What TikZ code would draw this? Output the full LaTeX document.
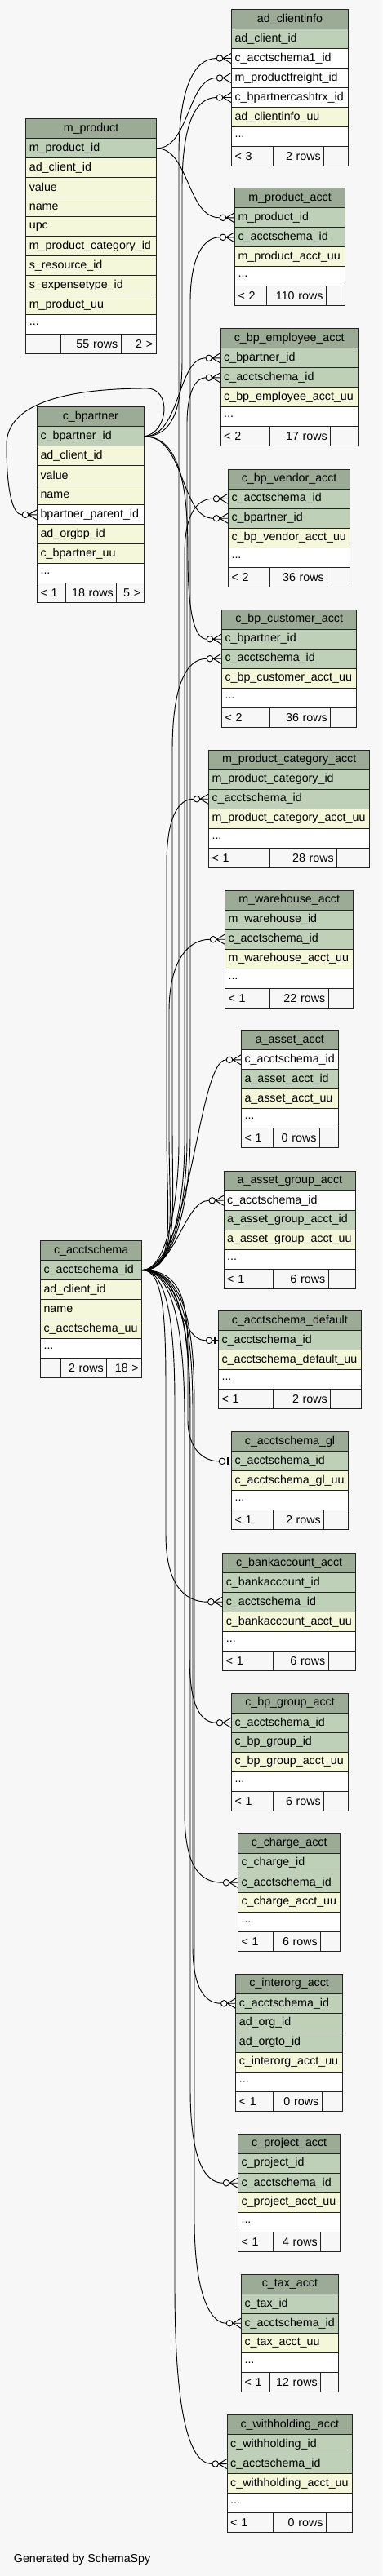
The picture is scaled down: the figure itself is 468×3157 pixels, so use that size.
\documentclass[tikz,border=0pt]{standalone}
\usepackage{fontspec}
\setmainfont{Liberation Sans}
\definecolor{bgc}{HTML}{F7F7F7}
\definecolor{hdrc}{HTML}{9BAB96}
\definecolor{pkc}{HTML}{BED1B8}
\definecolor{fldc}{HTML}{F4F7DA}
\definecolor{whc}{HTML}{FFFFFF}
\definecolor{bdc}{HTML}{222222}
\tikzset{
  cellbase/.style={draw=bdc, line width=0.8pt, anchor=north west, minimum height=18pt, inner xsep=3pt, inner ysep=0pt, font=\fontsize{10.7pt}{12.5pt}\selectfont, text=black},
  hbox/.style={cellbase, fill=hdrc, align=center},
  rbox/.style={cellbase, align=left},
  fboxl/.style={cellbase, fill=bgc, align=left},
  fboxr/.style={cellbase, fill=bgc, align=right},
  fkline/.style={line width=0.7pt, black},
  mk/.style={line width=0.7pt, black},
}
\newcommand\tHead[5]{%
  \pgfmathsetmacro\tw{((#3)-(#2))*0.75-6}%
  \node[hbox, text width=\tw pt] (#1) at (#2,#4) {\mbox{#5}};}
\newcommand\tRow[6]{%
  \pgfmathsetmacro\tw{((#3)-(#2))*0.75-6}%
  \node[rbox, fill=#5, text width=\tw pt] (#1) at (#2,#4) {\mbox{#6}};}
\newcommand\tFoot[9]{%
  \pgfmathsetmacro\twa{((#3)-(#2))*0.75-6}%
  \pgfmathsetmacro\twb{((#4)-(#3))*0.75-6}%
  \pgfmathsetmacro\twc{((#5)-(#4))*0.75-6}%
  \node[fboxl, text width=\twa pt] (#1-a) at (#2,#6) {\mbox{#7}};
  \node[fboxr, text width=\twb pt] (#1-b) at (#3,#6) {\mbox{#8}};
  \node[fboxr, text width=\twc pt] (#1-c) at (#4,#6) {\mbox{#9}};}
\newcommand\crowin[1]{%
  \coordinate (#1-in) at ([xshift=-13.5pt]#1.west);
  \begin{scope}[shift={(#1.west)}]
    \draw[mk] (0,-6) -- (-10,0) -- (0,6) (-10,0) -- (0,0);
    \draw[mk, fill=white] (-14,0) circle[radius=2.8pt];
  \end{scope}}
\newcommand\onein[1]{%
  \coordinate (#1-in) at ([xshift=-11pt]#1.west);
  \begin{scope}[shift={(#1.west)}]
    \draw[mk] (-7,0) -- (0,0);
    \draw[black, line width=2pt] (-3.7,-4.5) -- (-3.7,4.5);
    \draw[mk, fill=white] (-11,0) circle[radius=2.8pt];
  \end{scope}}
\begin{document}
\begin{tikzpicture}[x=0.75pt,y=-0.75pt]
\fill[bgc] (0,0) rectangle (468,3157);
\useasboundingbox (0,0) rectangle (468,3157);

% ad_clientinfo
\tHead{ci}{283}{426}{11}{ad\_clientinfo}
\tRow{ci-1}{283}{426}{35}{pkc}{ad\_client\_id}
\tRow{ci-2}{283}{426}{59}{whc}{c\_acctschema1\_id}
\tRow{ci-3}{283}{426}{83}{whc}{m\_productfreight\_id}
\tRow{ci-4}{283}{426}{107}{whc}{c\_bpartnercashtrx\_id}
\tRow{ci-5}{283}{426}{131}{fldc}{ad\_clientinfo\_uu}
\tRow{ci-6}{283}{426}{155}{whc}{...}
\tFoot{ci-f}{283}{333.7}{396.3}{426}{179}{< 3}{2 rows}{}

% m_product
\tHead{mp}{31.3}{190.7}{145.3}{m\_product}
\tRow{mp-1}{31.3}{190.7}{169.3}{pkc}{m\_product\_id}
\tRow{mp-2}{31.3}{190.7}{193.3}{fldc}{ad\_client\_id}
\tRow{mp-3}{31.3}{190.7}{217.3}{fldc}{value}
\tRow{mp-4}{31.3}{190.7}{241.3}{fldc}{name}
\tRow{mp-5}{31.3}{190.7}{265.3}{fldc}{upc}
\tRow{mp-6}{31.3}{190.7}{289.3}{fldc}{m\_product\_category\_id}
\tRow{mp-7}{31.3}{190.7}{313.3}{fldc}{s\_resource\_id}
\tRow{mp-8}{31.3}{190.7}{337.3}{fldc}{s\_expensetype\_id}
\tRow{mp-9}{31.3}{190.7}{361.3}{fldc}{m\_product\_uu}
\tRow{mp-10}{31.3}{190.7}{385.3}{whc}{...}
\tFoot{mp-f}{31.3}{74.3}{147.7}{190.7}{409.3}{}{55 rows}{2 >}

% m_product_acct
\tHead{mpa}{287}{422}{230.3}{m\_product\_acct}
\tRow{mpa-1}{287}{422}{254.3}{pkc}{m\_product\_id}
\tRow{mpa-2}{287}{422}{278.3}{pkc}{c\_acctschema\_id}
\tRow{mpa-3}{287}{422}{302.3}{fldc}{m\_product\_acct\_uu}
\tRow{mpa-4}{287}{422}{326.3}{whc}{...}
\tFoot{mpa-f}{287}{325.7}{399}{422}{350.3}{< 2}{110 rows}{}

% c_bp_employee_acct
\tHead{bpe}{269.7}{437.7}{402.3}{c\_bp\_employee\_acct}
\tRow{bpe-1}{269.7}{437.7}{426.3}{pkc}{c\_bpartner\_id}
\tRow{bpe-2}{269.7}{437.7}{450.3}{pkc}{c\_acctschema\_id}
\tRow{bpe-3}{269.7}{437.7}{474.3}{fldc}{c\_bp\_employee\_acct\_uu}
\tRow{bpe-4}{269.7}{437.7}{498.3}{whc}{...}
\tFoot{bpe-f}{269.7}{329.7}{404.3}{437.7}{522.3}{< 2}{17 rows}{}

% c_bpartner
\tHead{bp}{45}{175.7}{498.3}{c\_bpartner}
\tRow{bp-1}{45}{175.7}{522.3}{pkc}{c\_bpartner\_id}
\tRow{bp-2}{45}{175.7}{546.3}{fldc}{ad\_client\_id}
\tRow{bp-3}{45}{175.7}{570.3}{fldc}{value}
\tRow{bp-4}{45}{175.7}{594.3}{fldc}{name}
\tRow{bp-5}{45}{175.7}{618.3}{whc}{bpartner\_parent\_id}
\tRow{bp-6}{45}{175.7}{642.3}{fldc}{ad\_orgbp\_id}
\tRow{bp-7}{45}{175.7}{666.3}{fldc}{c\_bpartner\_uu}
\tRow{bp-8}{45}{175.7}{690.3}{whc}{...}
\tFoot{bp-f}{45}{79.7}{142.3}{175.7}{714.3}{< 1}{18 rows}{5 >}

% c_bp_vendor_acct
\tHead{bpv}{279}{428.3}{574.7}{c\_bp\_vendor\_acct}
\tRow{bpv-1}{279}{428.3}{598.7}{pkc}{c\_acctschema\_id}
\tRow{bpv-2}{279}{428.3}{622.7}{pkc}{c\_bpartner\_id}
\tRow{bpv-3}{279}{428.3}{646.7}{fldc}{c\_bp\_vendor\_acct\_uu}
\tRow{bpv-4}{279}{428.3}{670.7}{whc}{...}
\tFoot{bpv-f}{279}{329.7}{400.3}{428.3}{694.7}{< 2}{36 rows}{}

% c_bp_customer_acct
\tHead{bpc}{271}{436.3}{746.7}{c\_bp\_customer\_acct}
\tRow{bpc-1}{271}{436.3}{770.7}{pkc}{c\_bpartner\_id}
\tRow{bpc-2}{271}{436.3}{794.7}{pkc}{c\_acctschema\_id}
\tRow{bpc-3}{271}{436.3}{818.7}{fldc}{c\_bp\_customer\_acct\_uu}
\tRow{bpc-4}{271}{436.3}{842.7}{whc}{...}
\tFoot{bpc-f}{271}{329.7}{404.3}{436.3}{866.7}{< 2}{36 rows}{}

% m_product_category_acct
\tHead{mpc}{255}{452.3}{918.7}{m\_product\_category\_acct}
\tRow{mpc-1}{255}{452.3}{942.7}{pkc}{m\_product\_category\_id}
\tRow{mpc-2}{255}{452.3}{966.7}{pkc}{c\_acctschema\_id}
\tRow{mpc-3}{255}{452.3}{990.7}{fldc}{m\_product\_category\_acct\_uu}
\tRow{mpc-4}{255}{452.3}{1014.7}{whc}{...}
\tFoot{mpc-f}{255}{329.7}{412.3}{452.3}{1038.7}{< 1}{28 rows}{}

% m_warehouse_acct
\tHead{mwa}{275}{432.3}{1090.7}{m\_warehouse\_acct}
\tRow{mwa-1}{275}{432.3}{1114.7}{pkc}{m\_warehouse\_id}
\tRow{mwa-2}{275}{432.3}{1138.7}{pkc}{c\_acctschema\_id}
\tRow{mwa-3}{275}{432.3}{1162.7}{fldc}{m\_warehouse\_acct\_uu}
\tRow{mwa-4}{275}{432.3}{1186.7}{whc}{...}
\tFoot{mwa-f}{275}{329.7}{401.7}{432.3}{1210.7}{< 1}{22 rows}{}

% a_asset_acct
\tHead{aa}{295}{413.7}{1262.3}{a\_asset\_acct}
\tRow{aa-1}{295}{413.7}{1286.3}{whc}{c\_acctschema\_id}
\tRow{aa-2}{295}{413.7}{1310.3}{pkc}{a\_asset\_acct\_id}
\tRow{aa-3}{295}{413.7}{1334.3}{fldc}{a\_asset\_acct\_uu}
\tRow{aa-4}{295}{413.7}{1358.3}{whc}{...}
\tFoot{aa-f}{295}{333.7}{391}{413.7}{1382.3}{< 1}{0 rows}{}

% a_asset_group_acct
\tHead{aga}{273.7}{435}{1434.7}{a\_asset\_group\_acct}
\tRow{aga-1}{273.7}{435}{1458.7}{whc}{c\_acctschema\_id}
\tRow{aga-2}{273.7}{435}{1482.7}{pkc}{a\_asset\_group\_acct\_id}
\tRow{aga-3}{273.7}{435}{1506.7}{fldc}{a\_asset\_group\_acct\_uu}
\tRow{aga-4}{273.7}{435}{1530.7}{whc}{...}
\tFoot{aga-f}{273.7}{333.7}{401.7}{435}{1554.7}{< 1}{6 rows}{}

% c_acctschema
\tHead{as}{49}{173.3}{1520}{c\_acctschema}
\tRow{as-1}{49}{173.3}{1544}{pkc}{c\_acctschema\_id}
\tRow{as-2}{49}{173.3}{1568}{fldc}{ad\_client\_id}
\tRow{as-3}{49}{173.3}{1592}{fldc}{name}
\tRow{as-4}{49}{173.3}{1616}{fldc}{c\_acctschema\_uu}
\tRow{as-5}{49}{173.3}{1640}{whc}{...}
\tFoot{as-f}{49}{74.3}{130.3}{173.3}{1664}{}{2 rows}{18 >}

% c_acctschema_default
\tHead{asd}{267}{441.7}{1606.3}{c\_acctschema\_default}
\tRow{asd-1}{267}{441.7}{1630.3}{pkc}{c\_acctschema\_id}
\tRow{asd-2}{267}{441.7}{1654.3}{fldc}{c\_acctschema\_default\_uu}
\tRow{asd-3}{267}{441.7}{1678.3}{whc}{...}
\tFoot{asd-f}{267}{333.7}{404.3}{441.7}{1702.3}{< 1}{2 rows}{}

% c_acctschema_gl
\tHead{asg}{283}{426}{1754.3}{c\_acctschema\_gl}
\tRow{asg-1}{283}{426}{1778.3}{pkc}{c\_acctschema\_id}
\tRow{asg-2}{283}{426}{1802.3}{fldc}{c\_acctschema\_gl\_uu}
\tRow{asg-3}{283}{426}{1826.3}{whc}{...}
\tFoot{asg-f}{283}{333.7}{396.3}{426}{1850.3}{< 1}{2 rows}{}

% c_bankaccount_acct
\tHead{ba}{272.3}{435}{1902.7}{c\_bankaccount\_acct}
\tRow{ba-1}{272.3}{435}{1926.7}{pkc}{c\_bankaccount\_id}
\tRow{ba-2}{272.3}{435}{1950.7}{pkc}{c\_acctschema\_id}
\tRow{ba-3}{272.3}{435}{1974.7}{fldc}{c\_bankaccount\_acct\_uu}
\tRow{ba-4}{272.3}{435}{1998.7}{whc}{...}
\tFoot{ba-f}{272.3}{333.7}{401.7}{435}{2022.7}{< 1}{6 rows}{}

% c_bp_group_acct
\tHead{bg}{283}{426}{2074.7}{c\_bp\_group\_acct}
\tRow{bg-1}{283}{426}{2098.7}{pkc}{c\_acctschema\_id}
\tRow{bg-2}{283}{426}{2122.7}{pkc}{c\_bp\_group\_id}
\tRow{bg-3}{283}{426}{2146.7}{fldc}{c\_bp\_group\_acct\_uu}
\tRow{bg-4}{283}{426}{2170.7}{whc}{...}
\tFoot{bg-f}{283}{333.7}{396.3}{426}{2194.7}{< 1}{6 rows}{}

% c_charge_acct
\tHead{ch}{291}{416.3}{2246.7}{c\_charge\_acct}
\tRow{ch-1}{291}{416.3}{2270.7}{pkc}{c\_charge\_id}
\tRow{ch-2}{291}{416.3}{2294.7}{pkc}{c\_acctschema\_id}
\tRow{ch-3}{291}{416.3}{2318.7}{fldc}{c\_charge\_acct\_uu}
\tRow{ch-4}{291}{416.3}{2342.7}{whc}{...}
\tFoot{ch-f}{291}{333.7}{392.3}{416.3}{2366.7}{< 1}{6 rows}{}

% c_interorg_acct
\tHead{io}{288.3}{419}{2418.7}{c\_interorg\_acct}
\tRow{io-1}{288.3}{419}{2442.7}{pkc}{c\_acctschema\_id}
\tRow{io-2}{288.3}{419}{2466.7}{pkc}{ad\_org\_id}
\tRow{io-3}{288.3}{419}{2490.7}{pkc}{ad\_orgto\_id}
\tRow{io-4}{288.3}{419}{2514.7}{fldc}{c\_interorg\_acct\_uu}
\tRow{io-5}{288.3}{419}{2538.7}{whc}{...}
\tFoot{io-f}{288.3}{333.7}{393.7}{419}{2562.7}{< 1}{0 rows}{}

% c_project_acct
\tHead{pj}{291}{416.3}{2614.7}{c\_project\_acct}
\tRow{pj-1}{291}{416.3}{2638.7}{pkc}{c\_project\_id}
\tRow{pj-2}{291}{416.3}{2662.7}{pkc}{c\_acctschema\_id}
\tRow{pj-3}{291}{416.3}{2686.7}{fldc}{c\_project\_acct\_uu}
\tRow{pj-4}{291}{416.3}{2710.7}{whc}{...}
\tFoot{pj-f}{291}{333.7}{392.3}{416.3}{2734.7}{< 1}{4 rows}{}

% c_tax_acct
\tHead{tx}{295}{413.7}{2786.7}{c\_tax\_acct}
\tRow{tx-1}{295}{413.7}{2810.7}{pkc}{c\_tax\_id}
\tRow{tx-2}{295}{413.7}{2834.7}{pkc}{c\_acctschema\_id}
\tRow{tx-3}{295}{413.7}{2858.7}{fldc}{c\_tax\_acct\_uu}
\tRow{tx-4}{295}{413.7}{2882.7}{whc}{...}
\tFoot{tx-f}{295}{329.7}{392.3}{413.7}{2906.7}{< 1}{12 rows}{}

% c_withholding_acct
\tHead{wh}{277.7}{431}{2959}{c\_withholding\_acct}
\tRow{wh-1}{277.7}{431}{2983}{pkc}{c\_withholding\_id}
\tRow{wh-2}{277.7}{431}{3007}{pkc}{c\_acctschema\_id}
\tRow{wh-3}{277.7}{431}{3031}{fldc}{c\_withholding\_acct\_uu}
\tRow{wh-4}{277.7}{431}{3055}{whc}{...}
\tFoot{wh-f}{277.7}{333.7}{399}{431}{3079}{< 1}{0 rows}{}

% markers
\crowin{ci-2}\crowin{ci-3}\crowin{ci-4}
\crowin{mpa-1}\crowin{mpa-2}
\crowin{bpe-1}\crowin{bpe-2}
\crowin{bp-5}
\crowin{bpv-1}\crowin{bpv-2}
\crowin{bpc-1}\crowin{bpc-2}
\crowin{mpc-2}\crowin{mwa-2}
\crowin{aa-1}\crowin{aga-1}
\onein{asd-1}\onein{asg-1}
\crowin{ba-2}\crowin{bg-1}\crowin{ch-2}\crowin{io-1}
\crowin{pj-2}\crowin{tx-2}\crowin{wh-2}

% edges from c_acctschema (upwards)
\draw[fkline] (as-1.east) .. controls +(30,0) and +(0,70) .. (219,1400) -- (219,190) .. controls +(0,-75) and +(-30,0) .. (ci-2-in);
\draw[fkline] (as-1.east) .. controls +(40,0) and +(0,80) .. (233,1390) -- (233,370) .. controls +(0,-55) and +(-20,0) .. (mpa-2-in);
\draw[fkline] (as-1.east) .. controls +(38,0) and +(0,80) .. (229,1395) -- (229,520) .. controls +(0,-40) and +(-12,0) .. (bpe-2-in);
\draw[fkline] (as-1.east) .. controls +(35,0) and +(0,80) .. (226,1398) -- (226,680) .. controls +(0,-50) and +(-20,0) .. (bpv-1-in);
\draw[fkline] (as-1.east) .. controls +(45,0) and +(0,110) .. (211,1380) -- (211,920) .. controls +(0,-80) and +(-25,0) .. (bpc-2-in);
\draw[fkline] (as-1.east) .. controls +(42,0) and +(0,110) .. (204,1385) -- (204,1060) .. controls +(0,-60) and +(-18,0) .. (mpc-2-in);
\draw[fkline] (as-1.east) .. controls +(44,0) and +(0,100) .. (207,1390) -- (207,1240) .. controls +(0,-65) and +(-25,0) .. (mwa-2-in);
\draw[fkline] (as-1.east) .. controls +(60,-5) and +(-35,0) .. (aa-1-in);
\draw[fkline] (as-1.east) .. controls +(40,0) and +(-30,0) .. (aga-1-in);
% edges from c_acctschema (downwards)
\draw[fkline] (as-1.east) .. controls +(45,0) and +(-35,0) .. (asd-1-in);
\draw[fkline] (as-1.east) .. controls +(50,0) and +(0,-60) .. (230,1660) -- (230,1740) .. controls +(0,35) and +(-20,0) .. (asg-1-in);
\draw[fkline] (as-1.east) .. controls +(25,0) and +(0,-90) .. (203,1700) -- (203,1880) .. controls +(0,60) and +(-30,0) .. (ba-2-in);
\draw[fkline] (as-1.east) .. controls +(45,0) and +(0,-90) .. (232,1720) -- (232,2030) .. controls +(0,60) and +(-20,0) .. (bg-1-in);
\draw[fkline] (as-1.east) .. controls +(40,0) and +(0,-100) .. (226,1740) -- (226,2220) .. controls +(0,65) and +(-30,0) .. (ch-2-in);
\draw[fkline] (as-1.east) .. controls +(50,0) and +(0,-100) .. (236,1730) -- (236,2385) .. controls +(0,50) and +(-20,0) .. (io-1-in);
\draw[fkline] (as-1.east) .. controls +(48,0) and +(0,-100) .. (233,1735) -- (233,2560) .. controls +(0,80) and +(-25,0) .. (pj-2-in);
\draw[fkline] (as-1.east) .. controls +(52,0) and +(0,-100) .. (238,1725) -- (238,2720) .. controls +(0,90) and +(-20,0) .. (tx-2-in);
\draw[fkline] (as-1.east) .. controls +(30,0) and +(0,-100) .. (214,1720) -- (214,2800) .. controls +(0,150) and +(-30,0) .. (wh-2-in);

% edges from c_bpartner
\draw[fkline] (bp-1.east) .. controls +(35,0) and +(0,60) .. (223,440) -- (223,230) .. controls +(0,-80) and +(-25,0) .. (ci-4-in);
\draw[fkline] (bp-1.east) .. controls +(45,0) and +(-35,0) .. (bpe-1-in);
\draw[fkline] (bp-1.east) .. controls +(50,0) and +(-40,0) .. (bpv-2-in);
\draw[fkline] (bp-1.east) .. controls +(50,0) and +(0,-60) .. (230,680) .. controls +(0,70) and +(-15,0) .. (bpc-1-in);
\draw[fkline] (bp-1.east) .. controls +(30,-5) and +(30,0) .. (180,476) .. controls +(-100,0) and +(0,-50) .. (8,545) .. controls +(0,55) and +(-12,0) .. (bp-5-in);

% edges from m_product
\draw[fkline] (mp-1.east) .. controls +(40,0) and +(-35,0) .. (ci-3-in);
\draw[fkline] (mp-1.east) .. controls +(40,0) and +(-40,0) .. (mpa-1-in);

\node[anchor=west, inner sep=0pt, font=\fontsize{10.7pt}{12.5pt}\selectfont] (gen) at (16.7,3137) {Generated by SchemaSpy};
\end{tikzpicture}
\end{document}
